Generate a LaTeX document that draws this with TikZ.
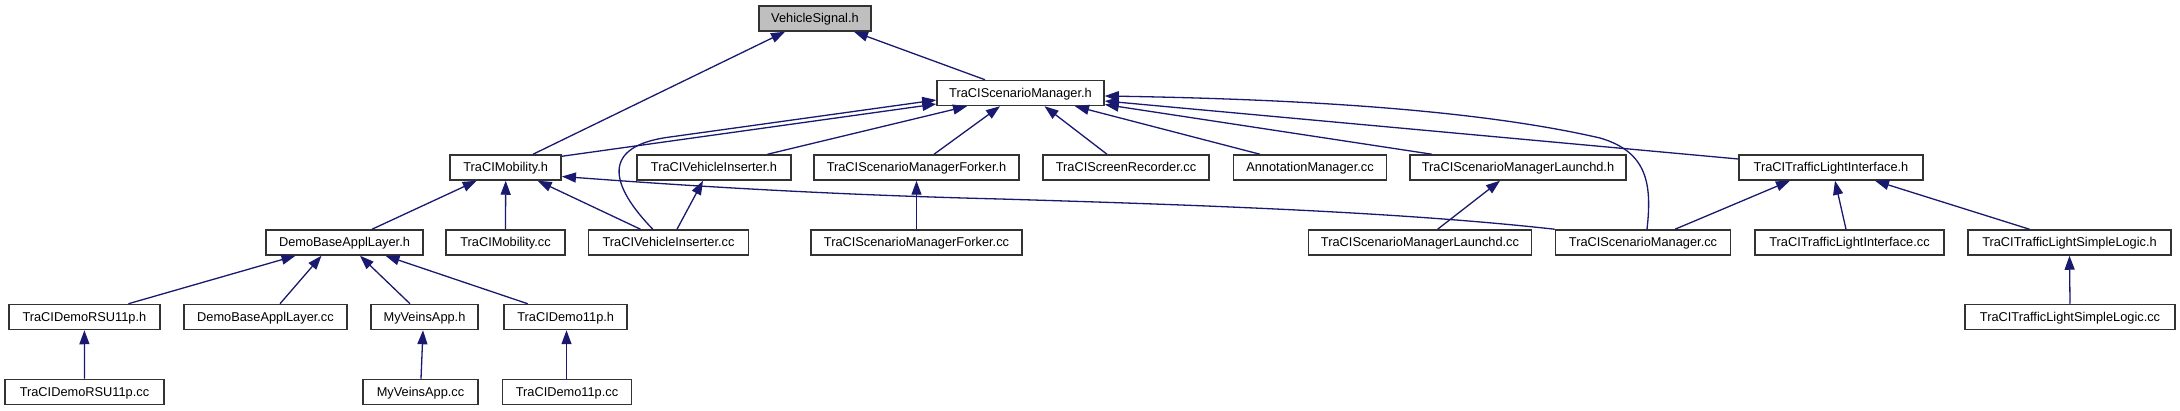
\documentclass[tikz,border=0pt]{standalone}
\usepackage{fontspec}
\setmainfont{Liberation Sans}
\usetikzlibrary{arrows.meta,calc}
\definecolor{edgeblue}{RGB}{25,25,112}
\definecolor{vsfill}{RGB}{191,191,191}
\begin{document}
\begin{tikzpicture}[x=1pt,y=-1pt,
  box/.style={draw=black!80, line width=1.5pt, fill=white, inner sep=0pt,
    minimum height=25pt, font=\fontsize{12.8}{14}\selectfont,
    text height=9.2pt, text depth=1pt},
  edge/.style={draw=edgeblue, line width=1.3pt, -{Triangle[length=14pt,width=10pt]}}]
\useasboundingbox[fill=white] (0,0) rectangle (2180,411);
% row 1
\node[box,minimum width=112pt,fill=vsfill] (VS) at (815,18.5) {VehicleSignal.h};
% row 2
\node[box,minimum width=167pt] (SMh) at (1020.5,93) {TraCIScenarioManager.h};
% row 3
\node[box,minimum width=111pt] (Mh) at (505.7,167.5) {TraCIMobility.h};
\node[box,minimum width=154pt] (VIh) at (714,167.5) {TraCIVehicleInserter.h};
\node[box,minimum width=205pt] (SMFh) at (916.5,167.5) {TraCIScenarioManagerForker.h};
\node[box,minimum width=166pt] (SRcc) at (1126,167.5) {TraCIScreenRecorder.cc};
\node[box,minimum width=153pt] (AMcc) at (1310,167.5) {AnnotationManager.cc};
\node[box,minimum width=216pt] (SMLh) at (1518,167.5) {TraCIScenarioManagerLaunchd.h};
\node[box,minimum width=184pt] (TLIh) at (1831,167.5) {TraCITrafficLightInterface.h};
% row 4
\node[box,minimum width=157pt] (DBh) at (344.5,242.5) {DemoBaseApplLayer.h};
\node[box,minimum width=119pt] (Mcc) at (505.5,242.5) {TraCIMobility.cc};
\node[box,minimum width=160pt] (VIcc) at (668.5,242.5) {TraCIVehicleInserter.cc};
\node[box,minimum width=211pt] (SMFcc) at (916.5,242.5) {TraCIScenarioManagerForker.cc};
\node[box,minimum width=223pt] (SMLcc) at (1420,242.5) {TraCIScenarioManagerLaunchd.cc};
\node[box,minimum width=175pt] (SMcc) at (1643,242.5) {TraCIScenarioManager.cc};
\node[box,minimum width=189pt] (TLIcc) at (1849.5,242.5) {TraCITrafficLightInterface.cc};
\node[box,minimum width=203pt] (TLSh) at (2069.5,242.5) {TraCITrafficLightSimpleLogic.h};
% row 5
\node[box,minimum width=151pt] (RSUh) at (84.4,317) {TraCIDemoRSU11p.h};
\node[box,minimum width=163pt] (DBcc) at (265.5,317) {DemoBaseApplLayer.cc};
\node[box,minimum width=107pt] (MVh) at (424.5,317) {MyVeinsApp.h};
\node[box,minimum width=123pt] (D11h) at (565.7,317) {TraCIDemo11p.h};
\node[box,minimum width=210pt] (TLScc) at (2070,317) {TraCITrafficLightSimpleLogic.cc};
% row 6
\node[box,minimum width=159pt] (RSUcc) at (84.5,392) {TraCIDemoRSU11p.cc};
\node[box,minimum width=115pt] (MVcc) at (420.5,392) {MyVeinsApp.cc};
\node[box,minimum width=129pt] (D11cc) at (567,392) {TraCIDemo11p.cc};
% edges
\draw[edge] ($(Mh.north)+(27.3,0)$) -- ($(VS.south)+(-30,0)$);
\draw[edge] ($(SMh.north)+(-35.5,0)$) -- ($(VS.south)+(39,0)$);
\draw[edge] ($(Mh.north east)+(0,2)$) -- ($(SMh.west)+(0,11)$);
\draw[edge] ($(VIcc.north)+(-15.7,0)$) .. controls (610,185) and (600,146) .. (670,137) -- ($(SMh.west)+(0,7)$);
\draw[edge] ($(VIh.north)+(53.5,0)$) -- ($(SMh.south)+(-53.5,0)$);
\draw[edge] ($(SMFh.north)+(17.5,0)$) -- ($(SMh.south)+(-20.5,0)$);
\draw[edge] ($(SRcc.north)+(-19,0)$) -- ($(SMh.south)+(24,0)$);
\draw[edge] ($(AMcc.north)+(-50,0)$) -- ($(SMh.south)+(54.5,0)$);
\draw[edge] ($(SMLh.north)+(-86,0)$) -- ($(SMh.east)+(0,11.5)$);
\draw[edge] ($(TLIh.west)+(0,-8.5)$) -- ($(SMh.east)+(0,8)$);
\draw[edge] ($(SMcc.north)+(4,0)$) .. controls (1652,185) and (1648,152) .. (1600,138) .. controls (1500,115) and (1350,100) .. ($(SMh.east)+(0,3)$);
\draw[edge] ($(VIcc.north)+(8.5,0)$) -- ($(VIh.south)+(-11,0)$);
\draw[edge] ($(VIcc.north)+(-28,0)$) -- ($(Mh.south)+(32,0)$);
\draw[edge] (Mcc.north) -- (Mh.south);
\draw[edge] ($(DBh.north)+(27.5,0)$) -- ($(Mh.south)+(-29,0)$);
\draw[edge] (SMcc.north west) .. controls (1400,212) and (1200,205) .. (1000,199) .. controls (800,194) and (650,183) .. ($(Mh.east)+(0,9)$);
\draw[edge] ($(SMLcc.north)+(17.6,0)$) -- ($(SMLh.south)+(-18,0)$);
\draw[edge] ($(SMcc.north)+(32,0)$) -- ($(TLIh.south)+(-41,0)$);
\draw[edge] ($(TLIcc.north)+(-3.5,0)$) -- ($(TLIh.south)+(4,0)$);
\draw[edge] ($(TLSh.north)+(-40,0)$) -- ($(TLIh.south)+(44,0)$);
\draw[edge] (TLScc.north) -- (TLSh.south);
\draw[edge] ($(RSUh.north)+(44,0)$) -- ($(DBh.south)+(-49,0)$);
\draw[edge] ($(DBcc.north)+(14.5,0)$) -- ($(DBh.south)+(-23,0)$);
\draw[edge] ($(MVh.north)+(-14.5,0)$) -- ($(DBh.south)+(15.5,0)$);
\draw[edge] ($(D11h.north)+(-38,0)$) -- ($(DBh.south)+(41,0)$);
\draw[edge] (RSUcc.north) -- (RSUh.south);
\draw[edge] ($(MVcc.north)+(0.5,0)$) -- ($(MVh.south)+(-1.5,0)$);
\draw[edge] ($(D11cc.north)+(-0.5,0)$) -- ($(D11h.south)+(0.8,0)$);
\draw[edge] (SMFcc.north) -- (SMFh.south);
\end{tikzpicture}
\end{document}
